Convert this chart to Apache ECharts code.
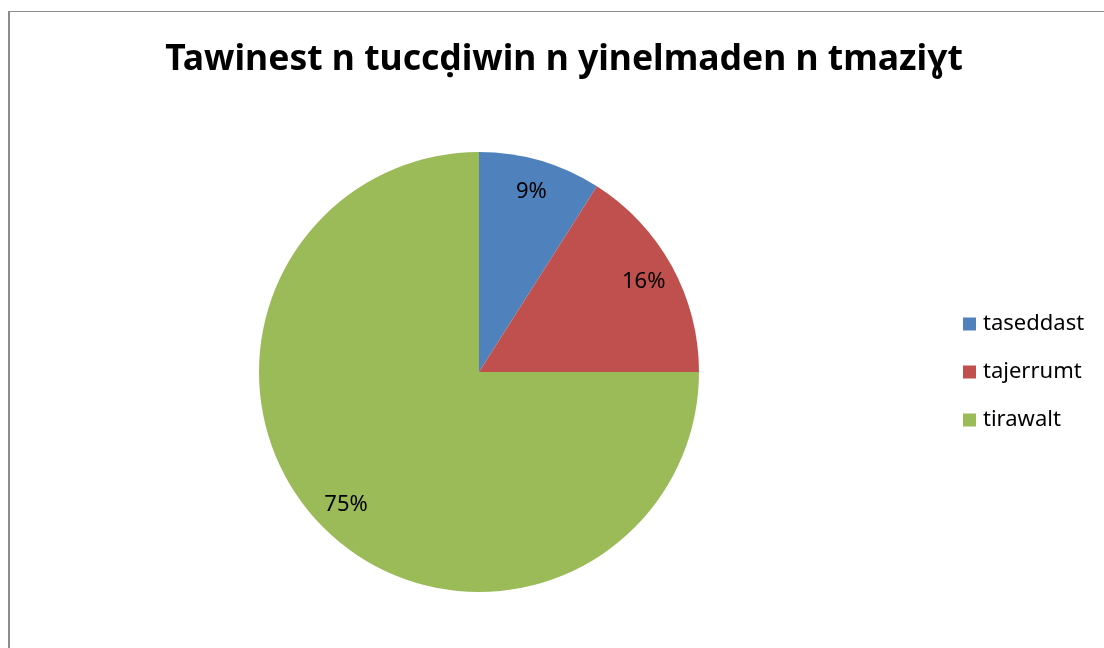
<!DOCTYPE html>
<html>
<head>
<meta charset="utf-8">
<script src="https://cdn.jsdelivr.net/npm/echarts@6/dist/echarts.min.js"></script>
<style>
  html, body { margin: 0; padding: 0; background: #fff; }
  #frame { position: absolute; left: 8px; top: 11px; width: 1110px; height: 650px;
    border-left: 2px solid #8c8c8c; border-top: 1px solid #8c8c8c; }
  #main { position: absolute; left: 0; top: 0; width: 1104px; height: 648px; }
</style>
</head>
<body>
<div id="frame"></div>
<div id="main"></div>
<script>
// 数据
const categories = ['taseddast', 'tajerrumt', 'tirawalt'];
const values = [9, 16, 75];
const colors = ['#4f81bd', '#c0504d', '#9bbb59'];
const titleText = 'Tawinest n tuccḍiwin n yinelmaden n tmaziɣt';

const pieData = categories.map((name, i) => ({ name: name, value: values[i] }));

const chart = echarts.init(document.getElementById('main'));

chart.setOption({
  color: colors,
  animation: false,
  title: {
    text: titleText,
    left: 559,
    top: 37,
    textAlign: 'center',
    textStyle: {
      fontFamily: 'Noto Sans',
      fontWeight: 'bold',
      fontSize: 35.5,
      color: '#000'
    }
  },
  legend: {
    orient: 'vertical',
    left: 963,
    top: 313,
    padding: 0,
    itemWidth: 13,
    itemHeight: 13,
    itemGap: 26,
    icon: 'rect',
    textStyle: {
      fontFamily: 'Noto Sans',
      fontSize: 22,
      lineHeight: 22,
      color: '#000',
      padding: [0, 0, 0, 2]
    },
    data: categories
  },
  series: [{
      type: 'pie',
      center: [479, 372],
      radius: [0, 220],
      startAngle: 90,
      clockwise: true,
      label: { show: false },
      labelLine: { show: false },
      itemStyle: { borderWidth: 0 },
      silent: true,
      data: pieData
    },
    { // 透明的一层，只用来放百分比标签
      type: 'pie',
      center: [479, 372],
      radius: [150, 220],
      startAngle: 90,
      clockwise: true,
      silent: true,
      itemStyle: { color: 'rgba(0,0,0,0)' },
      label: {
        show: true,
        position: 'inside',
        formatter: '{c}%',
        fontFamily: 'Noto Sans',
        fontSize: 22,
        color: '#000'
      },
      labelLine: { show: false },
      data: pieData
    }
  ]
});
</script>
</body>
</html>
